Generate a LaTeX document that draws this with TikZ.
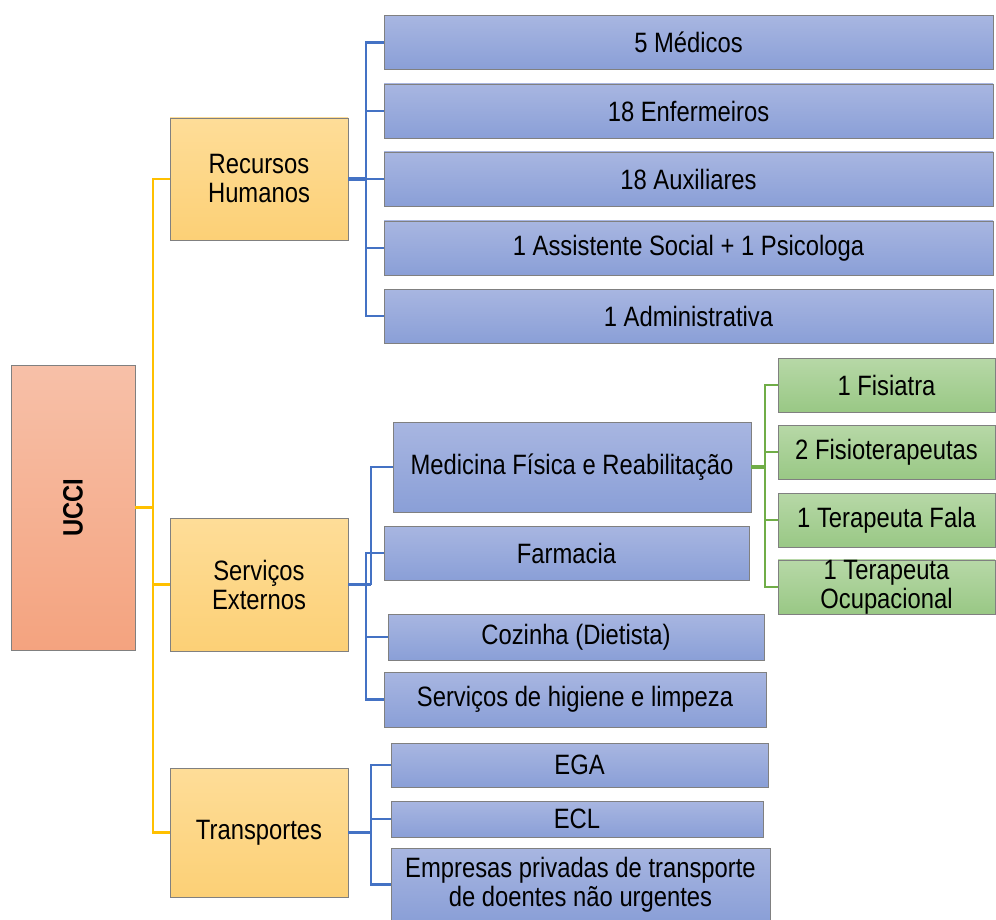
\documentclass[tikz,border=0pt]{standalone}
\usepackage{fontspec}
\setmainfont{Liberation Sans}[FakeStretch=0.85]
\definecolor{blueTop}{RGB}{168,182,225}
\definecolor{blueBot}{RGB}{138,159,215}
\definecolor{yelTop}{RGB}{254,221,152}
\definecolor{yelBot}{RGB}{252,208,118}
\definecolor{oraTop}{RGB}{247,192,168}
\definecolor{oraBot}{RGB}{244,163,127}
\definecolor{greTop}{RGB}{183,216,167}
\definecolor{greBot}{RGB}{153,200,133}
\definecolor{yelLine}{RGB}{255,192,0}
\definecolor{bluLine}{RGB}{68,114,196}
\definecolor{greLine}{RGB}{112,173,71}
\begin{document}
\begin{tikzpicture}[x=1pt,y=-1pt,
		box/.style={draw=black!50, line width=0.8pt, inner sep=0pt, align=center,
			font=\fontsize{28}{29}\selectfont},
		bluebox/.style={box, top color=blueTop, bottom color=blueBot},
		yelbox/.style={box, top color=yelTop, bottom color=yelBot, minimum width=178pt},
		grebox/.style={box, top color=greTop, bottom color=greBot, minimum width=217pt, minimum height=54pt},
		yline/.style={draw=yelLine, line width=2.5pt},
		bline/.style={draw=bluLine, line width=2.5pt},
		gline/.style={draw=greLine, line width=2.5pt},
	]
		\useasboundingbox (0,0) rectangle (996,920);

		% root
		\node[box, top color=oraTop, bottom color=oraBot, minimum width=124pt, minimum height=285pt] (ucci) at (73,507.5) {};
		\node[rotate=90, font=\fontsize{28}{29}\selectfont\bfseries] (ucciText) at (ucci.center) {UCCI};

		% second level
		\node[yelbox, minimum height=122pt] (rh) at (259,179) {Recursos\\Humanos};
		\node[yelbox, minimum height=133pt] (se) at (259,584.5) {Serviços\\Externos};
		\node[yelbox, minimum height=129pt] (tr) at (259,832.5) {Transportes};

		% recursos humanos
		\foreach \i/\y/\t in {1/42.5/5 Médicos, 2/111/18 Enfermeiros, 3/179/18 Auxiliares,
			4/248/1 Assistente Social + 1 Psicologa, 5/316/1 Administrativa}{
			\node[bluebox, minimum width=609pt, minimum height=54pt] (m\i) at (688.5,\y) {\t};
		}

		% servicos externos
		\node[bluebox, minimum width=358pt, minimum height=90pt] (med) at (572,467) {Medicina Física e Reabilitação};
		\node[bluebox, minimum width=365pt, minimum height=54pt] (farm) at (566.5,553) {Farmacia};
		\node[bluebox, minimum width=376pt, minimum height=46pt] (coz) at (576,637) {Cozinha (Dietista)};
		\node[bluebox, minimum width=382pt, minimum height=55pt] (hig) at (575,699.5) {Serviços de higiene e limpeza};

		% medicina fisica
		\node[grebox] (g1) at (886.5,385) {1 Fisiatra};
		\node[grebox] (g2) at (886.5,452) {2 Fisioterapeutas};
		\node[grebox] (g3) at (886.5,520) {1 Terapeuta Fala};
		\node[grebox] (g4) at (886.5,587) {1 Terapeuta\\Ocupacional};

		% transportes
		\node[bluebox, minimum width=377pt, minimum height=44pt] (ega) at (579.5,765) {EGA};
		\node[bluebox, minimum width=372pt, minimum height=36pt] (ecl) at (577,819) {ECL};
		\node[bluebox, minimum width=379pt, minimum height=73pt] (emp) at (580.5,884.5) {Empresas privadas de transporte\\de doentes não urgentes};

		% connectors
		\coordinate (yt) at (153,0);
		\coordinate (rt) at (366,0);
		\coordinate (st) at (371,0);
		\coordinate (tt) at (371,0);
		\coordinate (gt) at (765,0);

		\draw[yline] (rh.west) -- (rh.west -| yt) -- (tr.west -| yt) -- (tr.west);
		\draw[yline] (ucci.east) -- (ucci.east -| yt);
		\draw[yline] (se.west) -- (se.west -| yt);

		\draw[bline, line width=3.5pt] (rh.east) -- (rh.east -| rt);
		\draw[bline] (m1.west) -| (rt |- m5.west) -- (m5.west);
		\foreach \i in {2,3,4}{
			\draw[bline] (m\i.west) -- (m\i.west -| rt);
		}

		\draw[bline, line width=3.5pt] (se.east) -- (se.east -| st);
		\draw[bline] (se.east -| st) |- (med.west);
		\draw[bline] (farm.west) -| (rt |- hig.west) -- (hig.west);
		\draw[bline] (coz.west) -- (coz.west -| rt);

		\draw[gline, line width=3.5pt] (med.east) -- (med.east -| gt);
		\draw[gline] (g1.west) -| (gt |- g4.west) -- (g4.west);
		\foreach \i in {2,3}{
			\draw[gline] (g\i.west) -- (g\i.west -| gt);
		}

		\draw[bline, line width=3.5pt] (tr.east) -- (tr.east -| tt);
		\draw[bline] (ega.west) -| (tt |- emp.west) -- (emp.west);
		\draw[bline] (ecl.west) -- (ecl.west -| tt);
	\end{tikzpicture}
\end{document}
